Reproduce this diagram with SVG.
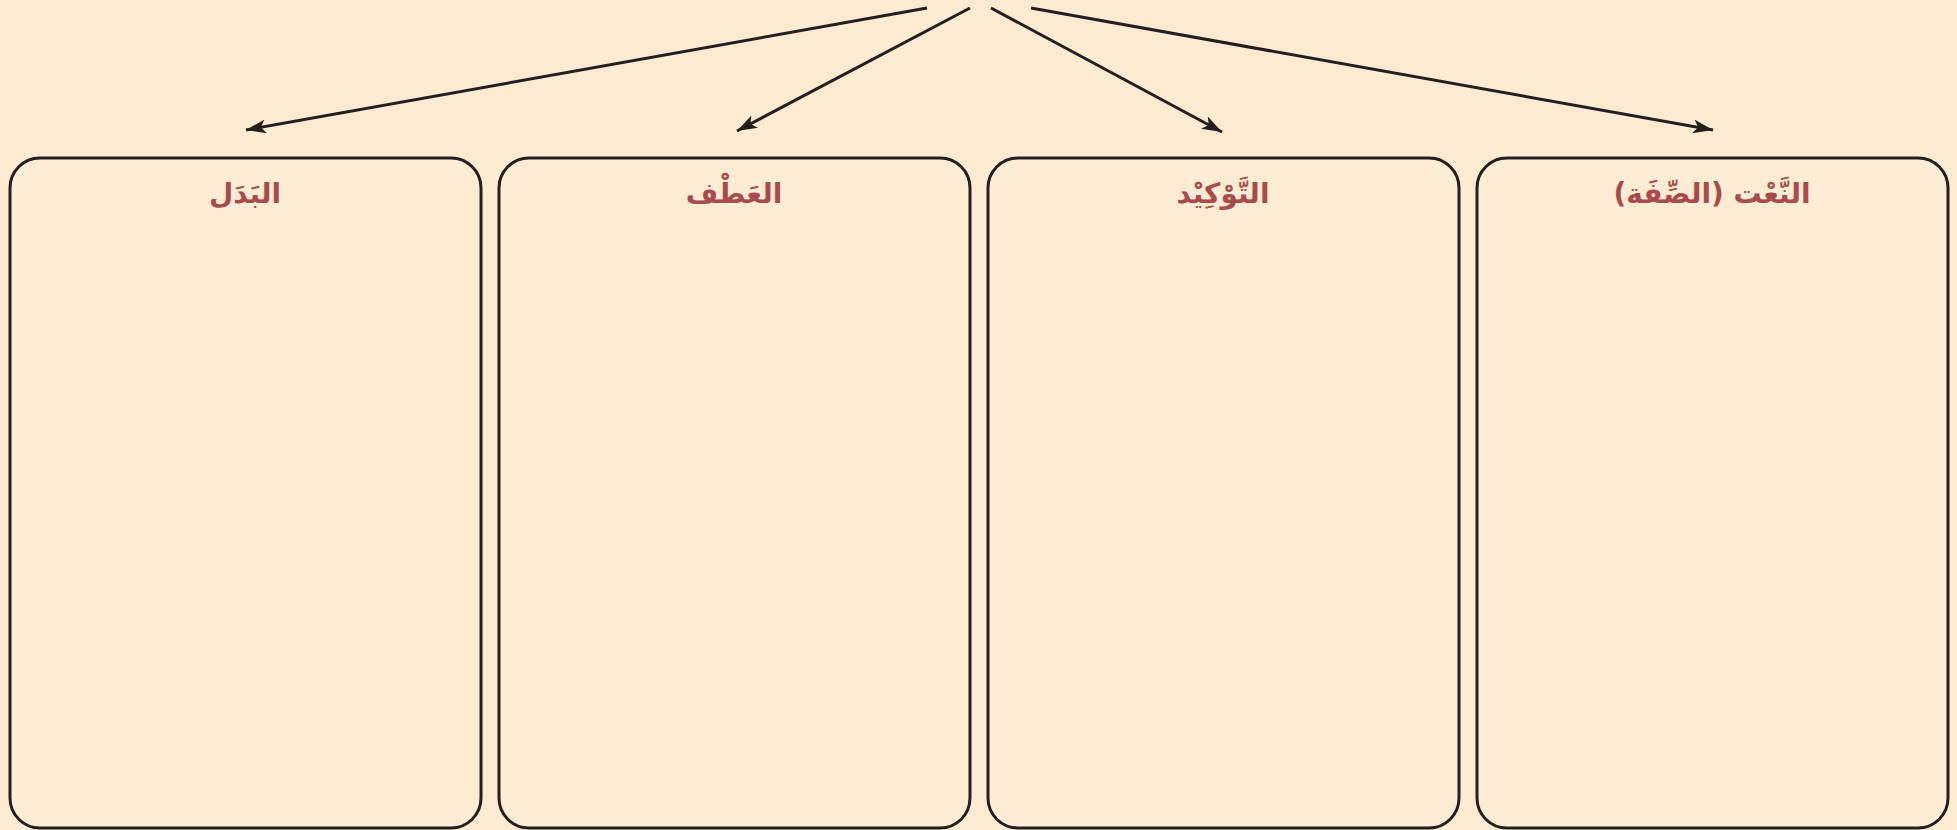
<svg xmlns="http://www.w3.org/2000/svg" width="1957" height="830" viewBox="0 0 1957 830">
<style>
.box{fill:#fdecd4;stroke:#231f20;stroke-width:3}
.title{font-family:"DejaVu Sans",sans-serif;font-size:28px;font-weight:bold;fill:#a94b4b;text-anchor:middle}
.conn{stroke:#231f20;stroke-width:3;fill:none;marker-end:url(#ah)}
</style>
<defs>
<marker id="ah" markerUnits="userSpaceOnUse" markerWidth="22" markerHeight="14" refX="20" refY="7" orient="auto" viewBox="0 0 22 14">
<path d="M0,0 L20,7 L0,14 L5,7 z" fill="#231f20"/>
</marker>
</defs>
<rect width="1957" height="830" fill="#fcebd1"/>
<g id="connectors">
<line class="conn" x1="927" y1="8" x2="246" y2="130"/>
<line class="conn" x1="970" y1="8" x2="737" y2="131"/>
<line class="conn" x1="991" y1="8" x2="1222" y2="132"/>
<line class="conn" x1="1031" y1="8" x2="1713" y2="130"/>
</g>
<g id="node-badal">
<rect class="box" x="10" y="158" width="471" height="670" rx="30"/>
<text class="title" x="245" y="203" direction="rtl">البَدَل</text>
</g>
<g id="node-atf">
<rect class="box" x="499" y="158" width="471" height="670" rx="30"/>
<text class="title" x="734" y="203" direction="rtl">العَطْف</text>
</g>
<g id="node-tawkid">
<rect class="box" x="988" y="158" width="471" height="670" rx="30"/>
<text class="title" x="1223" y="203" direction="rtl">التَّوْكِيْد</text>
</g>
<g id="node-naat">
<rect class="box" x="1477" y="158" width="471" height="670" rx="30"/>
<text class="title" x="1712" y="203" direction="rtl">النَّعْت (الصِّفَة)</text>
</g>
</svg>
